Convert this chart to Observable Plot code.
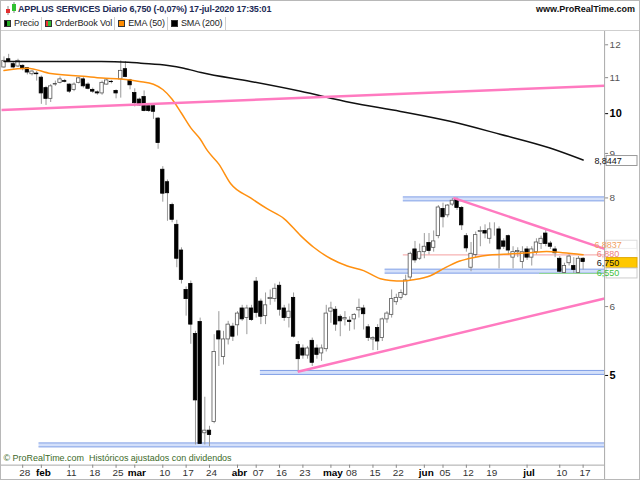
<!DOCTYPE html>
<html><head><meta charset="utf-8">
<script src="https://cdn.jsdelivr.net/npm/d3@7"></script>
<script src="https://cdn.jsdelivr.net/npm/@observablehq/plot@0.6"></script>
<style>
body{margin:0;background:#fff;font-family:"Liberation Sans",Arial,sans-serif;}
#wrap{position:relative;width:638px;height:478px;border:1px solid #b8b8b8;overflow:hidden;background:#fff;}
#title{position:absolute;left:0;top:0;width:638px;height:16px;font-size:9px;line-height:17px;color:#1c2a55;font-weight:bold;letter-spacing:-0.15px;}
#title .t{position:absolute;left:17px;top:0;}
#title .w{position:absolute;right:4px;top:0;font-size:9px;color:#111;letter-spacing:0;}
#legend{position:absolute;left:0;top:16px;width:638px;height:13px;font-size:9px;line-height:13px;color:#222;border-bottom:1px solid #cfcfcf;letter-spacing:-0.1px;}
#legend span.it{display:inline-block;padding:0 2px 0 3px;border-right:1px solid #cfcfcf;height:13px;}
#legend i{display:inline-block;width:7px;height:7px;margin-right:3px;vertical-align:-1px;border:1px solid #333;box-sizing:border-box;}
#chart{position:absolute;left:0;top:30px;}
</style></head><body>
<div id="wrap">
  <div id="title"><svg width="14" height="16" style="position:absolute;left:3px;top:0">
    <line x1="4" y1="5" x2="4" y2="14" stroke="#888"/><rect x="2" y="8" width="4" height="4" fill="#e03030"/>
    <line x1="10" y1="1" x2="10" y2="12" stroke="#888"/><rect x="8" y="3" width="4" height="7" fill="#30c030"/></svg>
    <span class="t">APPLUS SERVICES Diario 6,750 (-0,07%) 17-jul-2020 17:35:01</span>
    <span class="w">www.ProRealTime.com</span></div>
  <div id="legend"><span class="it"><i style="background:linear-gradient(90deg,#000 50%,#2a2 50%)"></i>Precio</span><span class="it"><i style="background:linear-gradient(90deg,#e33 50%,#3b3 50%)"></i>OrderBook Vol</span><span class="it"><i style="background:#ff8c00"></i>EMA (50)</span><span class="it"><i style="background:#000"></i>SMA (200)</span></div>
  <div id="chart"></div>
</div>
<script>
// ---- data (daily sessions 22-jan-2020 .. 17-jul-2020, index 0..124) ----
const open  = [11.30,11.55,11.40,11.33,11.35,11.28,11.10,11.12,11.00,10.70,10.40,10.80,10.85,10.90,10.80,10.65,10.85,10.95,10.80,10.65,10.58,10.55,10.80,10.88,10.62,10.95,11.25,10.92,10.56,10.38,10.45,10.20,10.20,9.87,
 8.62,8.34,7.85,7.45,6.96,6.27,6.37,5.58,5.76,4.29,4.32,4.42,5.62,5.25,5.50,5.69,5.71,5.97,5.82,5.97,6.41,6.08,5.85,6.12,6.12,6.34,5.97,5.82,6.14,5.42,
 5.37,5.27,5.48,5.37,5.30,5.36,5.92,5.95,5.84,5.80,5.78,5.80,5.94,5.97,5.68,5.50,5.67,5.52,5.80,5.87,6.07,6.14,6.19,6.48,6.98,6.81,6.93,7.10,7.01,7.23,
 7.77,7.64,7.86,7.96,7.79,7.23,6.65,6.88,7.31,7.33,7.18,7.36,7.36,7.13,7.23,6.83,6.93,6.75,6.98,6.83,6.93,7.08,7.28,7.09,6.98,6.81,6.56,6.73,6.68,6.56,6.81];
const high  = [11.62,11.70,11.45,11.55,11.38,11.30,11.20,11.18,11.05,10.75,10.80,10.90,11.02,10.95,10.82,10.85,11.00,11.00,10.85,10.70,10.62,10.90,10.95,10.92,10.65,11.50,11.48,10.95,10.68,10.42,10.62,10.25,10.24,9.90,
 8.69,8.39,7.89,7.54,7.01,6.32,6.42,5.62,5.82,4.72,4.37,5.57,5.92,5.62,5.77,5.74,5.92,6.02,6.02,6.02,6.48,6.12,6.22,6.27,6.37,6.40,6.02,6.04,6.22,5.47,
 5.42,5.40,5.52,5.42,5.42,6.02,6.07,6.00,5.87,5.92,5.84,5.89,6.12,6.02,5.72,5.54,5.72,5.82,5.92,6.27,6.20,6.27,6.52,6.93,7.13,7.08,7.28,7.28,7.33,7.84,
 7.89,7.86,7.99,8.00,7.82,7.28,7.11,7.31,7.41,7.45,7.49,7.49,7.41,7.18,7.25,7.03,7.01,7.03,7.03,7.03,7.18,7.23,7.35,7.13,7.03,6.85,6.73,6.88,6.83,6.85,6.83];
const low   = [11.28,11.45,11.25,11.30,11.20,11.08,11.05,10.90,10.25,10.22,10.30,10.75,10.82,10.85,10.55,10.60,10.82,10.70,10.65,10.55,10.50,10.50,10.78,10.82,10.40,10.42,11.00,10.65,10.18,10.20,10.05,10.03,9.85,9.10,
 7.91,7.52,7.49,6.65,6.37,5.85,5.43,4.16,4.17,4.16,4.14,4.40,5.12,5.14,5.42,5.47,5.55,5.77,5.57,5.77,5.82,5.72,5.72,6.02,6.07,5.85,5.77,5.67,5.52,5.04,
 5.22,5.22,5.12,5.22,5.19,5.32,5.74,5.62,5.54,5.70,5.62,5.64,5.82,5.64,5.47,5.34,5.34,5.47,5.74,5.82,6.02,6.10,6.17,6.43,6.73,6.78,6.81,6.88,6.93,7.18,
 7.39,7.59,7.82,7.74,7.34,6.93,6.58,6.83,7.03,7.18,7.08,7.23,6.63,6.98,6.88,6.63,6.83,6.63,6.78,6.68,6.88,6.98,7.03,6.98,6.83,6.56,6.55,6.68,6.55,6.55,6.61];
const close = [11.50,11.47,11.30,11.50,11.25,11.15,11.18,11.10,10.55,10.40,10.75,10.82,10.95,10.88,10.60,10.80,10.98,10.75,10.68,10.60,10.55,10.85,10.92,10.87,10.55,11.20,11.02,10.78,10.28,10.22,10.07,10.07,10.05,9.25,
 8.09,8.10,7.55,6.81,6.44,6.12,5.72,4.68,4.17,4.32,4.27,5.32,5.50,5.50,5.72,5.54,5.89,5.80,5.97,5.79,5.90,5.84,6.02,6.14,6.29,5.95,5.82,5.92,5.54,5.22,
 5.27,5.37,5.17,5.28,5.37,5.89,5.97,5.72,5.77,5.82,5.76,5.87,5.98,5.88,5.52,5.52,5.47,5.80,5.89,6.12,6.14,6.22,6.43,6.90,6.78,6.93,7.03,6.95,7.13,7.80,
 7.60,7.84,7.94,7.79,7.44,7.00,6.90,7.25,7.33,7.28,7.36,7.36,6.98,7.03,6.96,6.93,6.95,6.93,6.83,6.98,7.11,7.18,7.08,7.03,6.91,6.58,6.68,6.85,6.61,6.81,6.75];

// EMA(50) and SMA(200) at sample sessions
const emaIdx = [0,5,10,17,21,25,29,32,34,36,38,40,42,43.6,46,48.6,52.8,56.4,60,63.5,66.3,70,73.5,77,80.6,82.7,85.5,87.6,91.3,94,97.6,100.4,104,109,112.6,116.2,119.6,124];
const emaVal = [11.21,11.28,11.12,11.04,10.99,10.96,10.89,10.81,10.66,10.39,10.01,9.63,9.35,9.06,8.75,8.30,8.00,7.77,7.57,7.24,7.02,6.81,6.68,6.60,6.46,6.43,6.42,6.44,6.51,6.63,6.77,6.83,6.88,6.90,6.92,6.94,6.92,6.8837];
const smaIdx = [0,20.8,26.6,29.3,35.1,38.5,42.2,52.8,63.5,74.2,84.9,95.5,106.2,116.9,124];
const smaVal = [11.48,11.48,11.46,11.43,11.36,11.28,11.15,10.89,10.61,10.30,10.06,9.80,9.47,9.13,8.8447];

// trend lines (start session, start price, end session, end price)
const trendX1 = [-0.53, 62.9, 96.2];
const trendY1 = [10.10, 5.05, 8.00];
const trendX2 = [128.6, 128.6, 128.6];
const trendY2 = [10.77, 6.13, 6.99];

// horizontal zones (start session, price)
const zoneX1 = [85.5, 81.6, 54.9, 7.5];
const zoneY  = [7.98, 6.59, 5.04, 4.16];

// thin level lines
const levelX1 = [85.5, 114.7];
const levelY  = [6.88, 6.55];
const levelColor = ["#f4a0a0", "#90d890"];

// x tick labels
const tickIdx = [4,8,14,19,24,28,34,39,44,50,54,59,64,70,74,79,84,90,94,99,104,112,119,124];
const tickLab = ["28","feb","11","18","25","mar","10","17","24","abr","07","16","23","may","08","15","22","jun","05","12","19","jul","10","17"];
const months = new Set(["feb","mar","abr","may","jun","jul"]);

// right labels (last values)
const lastLabels = [
  {v: 8.8447, text: "8,8447", color: "#111", bg: "#fff", border: "#999", shift: 1},
  {v: 6.8837, text: "6,8837", color: "#f0a060", bg: "#fff", border: "#ddd", shift: -9},
  {v: 6.88, text: "6,880", color: "#f08080", bg: "#fff", border: "#eee", shift: -1},
  {v: 6.75, text: "6,750", color: "#111", bg: "#ffc800", border: "#e0a800", shift: 1},
  {v: 6.55, text: "6,550", color: "#40c040", bg: "#fff", border: "#ccc", shift: 0}
];

// ---- build ----
const XMAX = 128.6, YMIN = 3.943, YMAX = 12.43;
const candles = close.map((c, i) => ({i, o: open[i], h: high[i], l: low[i], c, up: c >= open[i]}));
const ema = emaIdx.map((x, k) => ({x, y: emaVal[k]}));
const sma = smaIdx.map((x, k) => ({x, y: smaVal[k]}));
const trends = trendX1.map((x, k) => ({x1: x, y1: trendY1[k], x2: trendX2[k], y2: trendY2[k]}));
const zones = zoneX1.map((x, k) => ({x1: x, x2: XMAX, y: zoneY[k]}));
const levels = levelX1.map((x, k) => ({x1: x, x2: XMAX, y: levelY[k], c: levelColor[k]}));
const ticks = tickIdx.map((x, k) => ({x, t: tickLab[k], m: months.has(tickLab[k])}));

const plot = Plot.plot({
  width: 640, height: 450,
  marginTop: 0, marginLeft: 0, marginRight: 35, marginBottom: 15,
  style: {fontFamily: "'Liberation Sans', Arial, sans-serif", background: "transparent"},
  x: {type: "linear", domain: [-0.534, XMAX], axis: null},
  y: {type: "log", domain: [YMIN, YMAX], axis: null},
  marks: [
    Plot.ruleY(zones, {x1: "x1", x2: "x2", y: "y", stroke: "#d4e0fa", strokeWidth: 4}),
    Plot.ruleY(zones, {x1: "x1", x2: "x2", y: "y", stroke: "#7f9fe6", strokeWidth: 1, dy: -2}),
    Plot.ruleY(zones, {x1: "x1", x2: "x2", y: "y", stroke: "#7f9fe6", strokeWidth: 1, dy: 2}),
    Plot.ruleY(levels, {x1: "x1", x2: "x2", y: "y", stroke: "c", strokeWidth: 1}),
    Plot.ruleX(candles, {x: "i", y1: "l", y2: "h", stroke: "#9a9a9a", strokeWidth: 1}),
    Plot.rect(candles, {x1: d => d.i - 0.36, x2: d => d.i + 0.36, y1: "o", y2: "c",
      fill: d => d.up ? "#fff" : "#000", stroke: d => d.up ? "#555" : "#000", strokeWidth: 0.8}),
    Plot.line(sma, {x: "x", y: "y", stroke: "#111", strokeWidth: 1.5, curve: "monotone-x"}),
    Plot.line(ema, {x: "x", y: "y", stroke: "#ff9010", strokeWidth: 1.5, curve: "monotone-x"}),
    Plot.link(trends, {x1: "x1", y1: "y1", x2: "x2", y2: "y2", stroke: "#ff7ac0", strokeWidth: 2.5}),
    Plot.ruleY([YMIN], {stroke: "#a8a8a8"}),
    Plot.axisY({anchor: "right", ticks: [6, 8, 9, 11, 12], tickFormat: d => String(d), tickSize: 3, tickPadding: 2, fontSize: 10, color: "#555", stroke: "#888"}),
    Plot.axisY({anchor: "right", ticks: [5, 10], tickFormat: d => String(d), tickSize: 3, tickPadding: 2, fontSize: 11, fontWeight: "bold", color: "#000"}),
    Plot.ruleX(ticks, {x: "x", y1: YMIN, y2: 3.91, stroke: "#888", strokeWidth: 1}),
    Plot.text(ticks.filter(d => !d.m), {x: "x", text: "t", frameAnchor: "bottom", lineAnchor: "middle", dy: 8, dx: 2, fontSize: 10, fill: "#333"}),
    Plot.text(ticks.filter(d => d.m), {x: "x", text: "t", frameAnchor: "bottom", lineAnchor: "middle", dy: 8, dx: 2, fontSize: 10, fontWeight: "bold", fill: "#000"}),
    Plot.text(["© ProRealTime.com  Históricos ajustados con dividendos"], {frameAnchor: "bottom-left", lineAnchor: "middle", dx: 2, dy: -7, fontSize: 9, fill: "#3d6b2a"})
  ]
});
document.getElementById("chart").appendChild(plot);

// right axis line spanning the full chart height, and last-value labels placed with the plot's y scale
const ys = plot.scale("y");
const xs = plot.scale("x");
const svg = d3.select(plot);
svg.append("line").attr("x1", xs.apply(XMAX) + 0.5).attr("x2", xs.apply(XMAX) + 0.5)
  .attr("y1", 0).attr("y2", 450).attr("stroke", "#a8a8a8");
const g = svg.append("g").attr("font-size", 9).attr("font-family", "'Liberation Sans', Arial, sans-serif");
for (const L of lastLabels) {
  const y = ys.apply(L.v) + L.shift;
  g.append("rect").attr("x", 607).attr("y", y - 5).attr("width", 31).attr("height", 10)
    .attr("fill", L.bg).attr("stroke", L.border).attr("stroke-width", 1);
  g.append("text").attr("x", 609).attr("y", y + 3.2).attr("fill", L.color).text(L.text);
}
</script>
</body></html>
